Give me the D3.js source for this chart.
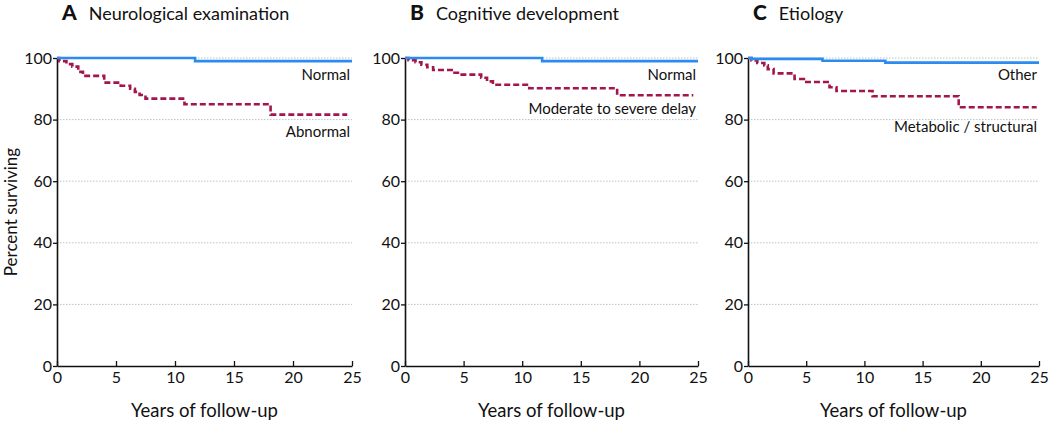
<!DOCTYPE html>
<html>
<head>
<meta charset="utf-8">
<script src="https://cdn.jsdelivr.net/npm/d3@7"></script>
<style>
  body { margin: 0; background: #fff; }
  svg text { font-family: Lato, "Open Sans", sans-serif; fill: #111; }
  .grid line { stroke: #b8c4c4; stroke-dasharray: 1.5,1.5; }
</style>
</head>
<body>
<div id="chart"></div>
<script>
// Kaplan-Meier steps: [years, percent surviving]
var neuroNormal   = [[0, 100], [11.7, 99.0], [25, 99.0]];
var neuroAbnormal = [[0, 100], [0.2, 99.0], [0.8, 98.0], [1.3, 97.2], [1.8, 95.5], [2.2, 94.2],
                     [4.0, 92.0], [5.4, 91.0], [6.2, 90.0], [6.6, 89.0], [7.0, 88.0], [7.5, 86.8],
                     [10.8, 85.0], [18.1, 81.6], [24.6, 81.6]];
var cogNormal     = [[0, 100], [11.7, 99.0], [25, 99.0]];
var cogDelay      = [[0, 100], [0.3, 99.3], [0.9, 98.6], [1.4, 97.8], [1.9, 97.0], [2.4, 96.1],
                     [4.1, 95.2], [4.7, 94.6], [6.5, 93.6], [7.0, 92.4], [7.5, 91.3],
                     [10.6, 90.2], [18.1, 87.9], [24.6, 87.9]];
var etiOther      = [[0, 100], [0.3, 99.7], [6.4, 99.1], [11.8, 98.5], [25, 98.5]];
var etiMetabolic  = [[0, 100], [0.3, 99.2], [0.8, 98.4], [1.4, 97.6], [1.7, 96.4], [2.2, 95.0],
                     [4.0, 93.2], [4.8, 92.2], [7.0, 90.5], [7.6, 89.3], [10.7, 87.6],
                     [18.1, 84.0], [24.8, 84.0]];

var panelLetters = ["A", "B", "C"];
var panelTitles  = ["Neurological examination", "Cognitive development", "Etiology"];
var topLabels    = ["Normal", "Normal", "Other"];
var bottomLabels = ["Abnormal", "Moderate to severe delay", "Metabolic / structural"];
var xTicks = [0, 5, 10, 15, 20, 25];
var yTicks = [0, 20, 40, 60, 80, 100];

var topSeries = [neuroNormal, cogNormal, etiOther];
var bottomSeries = [neuroAbnormal, cogDelay, etiMetabolic];

var width = 1050, height = 424;
var panel_left = [57, 405, 748];
var panel_w = [295, 293, 291];
var plot_top = 58, plot_bottom = 366;
// label baselines (px) for the two series names
var topLabelY = [80, 80, 80];
var bottomLabelY = [137, 114, 132];

var svg = d3.select("#chart")
    .append("svg")
        .attr("width", width)
        .attr("height", height);

var y = d3.scaleLinear()
    .domain([0, 100])
    .range([plot_bottom, plot_top]);

for (var p = 0; p < 3; p++) {
    var w = panel_w[p];
    var x = d3.scaleLinear()
        .domain([0, 25])
        .range([0, w]);

    var g = svg.append("g")
        .attr("transform", "translate(" + panel_left[p] + ",0)");

    // dotted gridlines
    g.append("g")
        .attr("class", "grid")
        .selectAll("line")
        .data(yTicks.filter(function(d) { return d > 0; }))
        .enter().append("line")
            .attr("x1", 0)
            .attr("x2", w)
            .attr("y1", function(d) { return y(d); })
            .attr("y2", function(d) { return y(d); });

    // axes
    var xAxis = g.append("g")
        .attr("transform", "translate(0," + plot_bottom + ")")
        .call(d3.axisBottom(x).tickValues(xTicks).tickSize(5).tickSizeOuter(0));
    var yAxis = g.append("g")
        .call(d3.axisLeft(y).tickValues(yTicks).tickSize(4).tickSizeOuter(0));
    [xAxis, yAxis].forEach(function(a) {
        a.select(".domain").attr("stroke", "#111").attr("stroke-width", 1.6);
        a.selectAll(".tick line").attr("stroke", "#111").attr("stroke-width", 1.3);
        a.selectAll(".tick text").style("font-size", "16px").attr("fill", "#111");
    });
    xAxis.selectAll(".tick line").attr("y1", -5).attr("y2", 0);
    xAxis.selectAll(".tick text").attr("dy", "0.95em").attr("y", 2);
    yAxis.selectAll(".tick text").attr("x", -5);

    var line = d3.line()
        .curve(d3.curveStepAfter)
        .x(function(d) { return x(d[0]); })
        .y(function(d) { return y(d[1]); });

    // bottom (dashed) series
    g.append("path")
        .datum(bottomSeries[p])
        .attr("fill", "none")
        .attr("stroke", "#a3164d")
        .attr("stroke-width", 2.6)
        .attr("stroke-dasharray", "6,3")
        .attr("d", line);

    // top (solid) series
    g.append("path")
        .datum(topSeries[p])
        .attr("fill", "none")
        .attr("stroke", "#2a8cf0")
        .attr("stroke-width", 2.6)
        .attr("d", line);

    //// text labels ////
    g.append("text")
        .attr("x", w - 2)
        .attr("y", topLabelY[p])
        .style("text-anchor", "end")
        .style("font-size", "15px")
        .text(topLabels[p]);
    g.append("text")
        .attr("x", w - 2)
        .attr("y", bottomLabelY[p])
        .style("text-anchor", "end")
        .style("font-size", "15px")
        .text(bottomLabels[p]);

    var title = g.append("text")
        .attr("x", 5)
        .attr("y", 20)
        .style("font-size", "18px");
    title.append("tspan")
        .style("font-weight", "900")
        .style("font-size", "21px")
        .text(panelLetters[p]);
    title.append("tspan")
        .attr("dx", 12)
        .text(panelTitles[p]);

    g.append("text")
        .attr("x", w / 2)
        .attr("y", 417)
        .style("text-anchor", "middle")
        .style("font-size", "18.5px")
        .text("Years of follow-up");
}

svg.append("text")
    .attr("transform", "translate(17," + ((plot_top + plot_bottom) / 2) + ") rotate(-90)")
    .style("text-anchor", "middle")
    .style("font-size", "17px")
    .text("Percent surviving");
</script>
</body>
</html>
